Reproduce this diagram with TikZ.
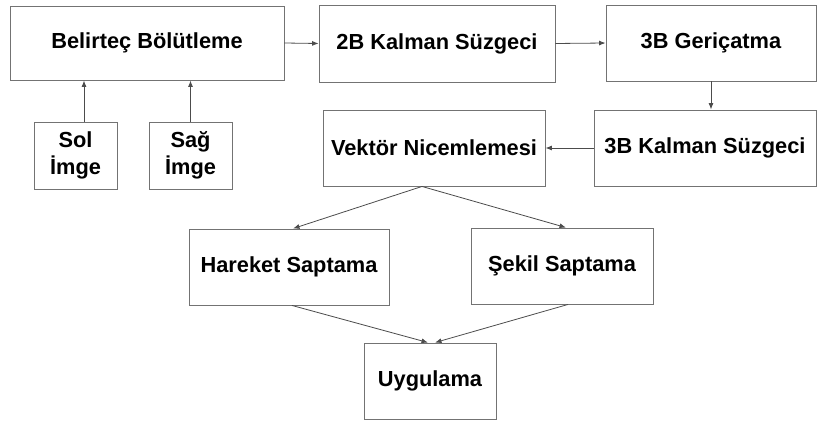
\documentclass[tikz,border=0pt]{standalone}
\usepackage{fontspec}
\setmainfont{Liberation Sans}
\usetikzlibrary{arrows.meta}
\begin{document}
\begin{tikzpicture}[x=1pt,y=-1pt,
  box/.style={draw=black!55, line width=0.9pt, fill=white, inner sep=0pt,
    font=\fontsize{21.8}{27}\selectfont\bfseries, align=center},
  conn/.style={draw=black!70, line width=0.8pt, -{Latex[length=6.5pt,width=5pt]}}]
\useasboundingbox (0,0) rectangle (817,422);
\node[box, minimum width=274, minimum height=74] (bel) at (147,43) {Belirteç Bölütleme};
\node[box, minimum width=236, minimum height=77] (kal2) at (437,43.5) {2B Kalman Süzgeci};
\node[box, minimum width=210, minimum height=76] (ger) at (711,43) {3B Geriçatma};
\node[box, minimum width=222, minimum height=76] (kal3) at (705,148) {3B Kalman Süzgeci};
\node[box, minimum width=222, minimum height=76] (vek) at (434,148) {Vektör Nicemlemesi};
\node[box, minimum width=83, minimum height=67] (sol) at (75.5,155.5) {Sol\\İmge};
\node[box, minimum width=83, minimum height=67] (sag) at (190.5,155.5) {Sağ\\İmge};
\node[box, minimum width=200, minimum height=76] (har) at (289,267) {Hareket Saptama};
\node[box, minimum width=182, minimum height=76] (sek) at (562,266) {Şekil Saptama};
\node[box, minimum width=132, minimum height=76] (uyg) at (430,381) {Uygulama};
\coordinate (vekout) at ([xshift=-12]vek.south);
\draw[conn] (bel.east) -- (kal2.west);
\draw[conn] (kal2.east) -- (ger.west);
\draw[conn] (ger.south) -- (ger.south |- kal3.north);
\draw[conn] (kal3.west) -- (vek.east);
\draw[conn] ([xshift=8.5]sol.north) -- ([xshift=8.5]sol.north |- bel.south);
\draw[conn] (sag.north) -- (sag.north |- bel.south);
\draw[conn] (vekout) -- ([xshift=4]har.north);
\draw[conn] (vekout) -- ([xshift=4]sek.north);
\draw[conn] ([xshift=3]har.south) -- ([xshift=-2]uyg.north);
\draw[conn] ([xshift=6]sek.south) -- ([xshift=5]uyg.north);
\end{tikzpicture}
\end{document}
